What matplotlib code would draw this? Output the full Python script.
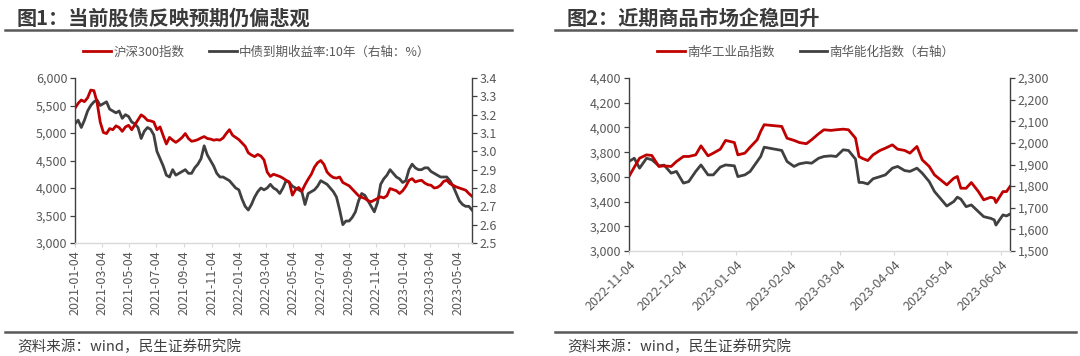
import matplotlib
matplotlib.use("Agg")
import matplotlib.pyplot as plt
import matplotlib.dates as mdates
from matplotlib.lines import Line2D
from matplotlib.ticker import FuncFormatter, FixedLocator
import pandas as pd

plt.rcParams['font.family'] = ['Noto Sans CJK SC', 'DejaVu Sans']

# ---------------- data: chart 1 (weekly samples) ----------------
c1_start = '2021-01-04'
c1_periods = 127
hs300 = [5450, 5540, 5600, 5570, 5640, 5780, 5770, 5560, 5200, 5010,
         4990, 5080, 5060, 5130, 5100, 5030, 5110, 5140, 5060, 5150,
         5240, 5330, 5290, 5230, 5220, 5200, 5060, 5110, 4950, 4800,
         4920, 4870, 4830, 4870, 4920, 4990, 4900, 4850, 4860, 4880,
         4910, 4935, 4900, 4890, 4870, 4880, 4870, 4910, 4990, 5060,
         4960, 4920, 4880, 4820, 4760, 4640, 4600, 4570, 4610, 4580,
         4510, 4290, 4210, 4250, 4230, 4210, 4180, 4140, 4110, 3870,
         3970, 4010, 3940, 4060, 4160, 4250, 4380, 4460, 4500, 4430,
         4290, 4230, 4190, 4180, 4200, 4100, 4070, 4040, 3980, 3920,
         3860, 3830, 3810, 3770, 3750, 3780, 3810, 3840, 3820, 3860,
         3990, 3970, 3950, 3900, 3950, 4030, 4140, 4170, 4110, 4130,
         4140, 4090, 4060, 4050, 4000, 4010, 4050, 4120, 4140, 4080,
         4050, 4020, 4000, 3980, 3960, 3900, 3850]
cgb10y = [3.15, 3.17, 3.13, 3.17, 3.22, 3.25, 3.27, 3.28, 3.25, 3.26,
          3.27, 3.23, 3.22, 3.21, 3.22, 3.18, 3.20, 3.19, 3.16, 3.15,
          3.13, 3.07, 3.11, 3.13, 3.12, 3.09, 3.00, 2.96, 2.92, 2.87,
          2.86, 2.90, 2.87, 2.88, 2.89, 2.90, 2.88, 2.88, 2.91, 2.93,
          2.96, 3.03, 2.98, 2.95, 2.92, 2.88, 2.86, 2.86, 2.85, 2.84,
          2.82, 2.80, 2.79, 2.74, 2.70, 2.68, 2.71, 2.75, 2.78, 2.80,
          2.79, 2.80, 2.82, 2.80, 2.79, 2.77, 2.80, 2.84, 2.83, 2.81,
          2.80, 2.79, 2.78, 2.71, 2.77, 2.78, 2.79, 2.81, 2.84, 2.83,
          2.82, 2.80, 2.78, 2.75, 2.68, 2.60, 2.62, 2.62, 2.64, 2.67,
          2.73, 2.77, 2.76, 2.73, 2.70, 2.67, 2.72, 2.82, 2.85, 2.87,
          2.90, 2.88, 2.86, 2.85, 2.83, 2.84, 2.90, 2.93, 2.91, 2.90,
          2.90, 2.91, 2.91, 2.89, 2.88, 2.87, 2.86, 2.86, 2.86, 2.84,
          2.81, 2.77, 2.73, 2.71, 2.70, 2.70, 2.68]
c1_xticks = ['2021-01-04', '2021-03-04', '2021-05-04', '2021-07-04', '2021-09-04',
             '2021-11-04', '2022-01-04', '2022-03-04', '2022-05-04', '2022-07-04',
             '2022-09-04', '2022-11-04', '2023-01-04', '2023-03-04', '2023-05-04']
c1_yticks_left = [3000, 3500, 4000, 4500, 5000, 5500, 6000]
c1_yticks_right = [2.5, 2.6, 2.7, 2.8, 2.9, 3.0, 3.1, 3.2, 3.3, 3.4]

# ---------------- data: chart 2 ----------------
c2_dates = ['2022-11-04', '2022-11-07', '2022-11-10', '2022-11-14', '2022-11-17',
            '2022-11-21', '2022-11-24', '2022-11-28', '2022-12-01', '2022-12-05',
            '2022-12-08', '2022-12-12', '2022-12-15', '2022-12-19', '2022-12-22',
            '2022-12-26', '2022-12-29', '2023-01-03', '2023-01-05', '2023-01-09',
            '2023-01-12', '2023-01-16', '2023-01-18', '2023-01-20', '2023-01-30',
            '2023-02-02', '2023-02-06', '2023-02-09', '2023-02-13', '2023-02-16',
            '2023-02-20', '2023-02-23', '2023-02-27', '2023-03-02', '2023-03-06',
            '2023-03-09', '2023-03-13', '2023-03-15', '2023-03-17', '2023-03-20',
            '2023-03-23', '2023-03-27', '2023-03-30', '2023-04-03', '2023-04-06',
            '2023-04-10', '2023-04-13', '2023-04-17', '2023-04-20', '2023-04-24',
            '2023-04-27', '2023-05-04', '2023-05-08', '2023-05-10', '2023-05-12',
            '2023-05-15', '2023-05-18', '2023-05-22', '2023-05-25', '2023-05-29',
            '2023-05-31', '2023-06-01', '2023-06-05', '2023-06-07', '2023-06-09']
nanhua_ind = [3603, 3678, 3751, 3778, 3773, 3684, 3689, 3684, 3724, 3765,
              3765, 3778, 3851, 3770, 3792, 3824, 3895, 3878, 3778, 3792,
              3840, 3900, 3968, 4022, 4008, 3913, 3895, 3878, 3868, 3900,
              3949, 3981, 3976, 3981, 3986, 3981, 3913, 3765, 3749, 3732,
              3778, 3814, 3832, 3859, 3824, 3814, 3792, 3846, 3738, 3684,
              3616, 3535, 3589, 3603, 3508, 3508, 3554, 3481, 3414, 3435,
              3427, 3392, 3481, 3481, 3522]
nanhua_energy = [1914, 1929, 1883, 1929, 1922, 1894, 1897, 1860, 1868, 1814,
                 1821, 1868, 1898, 1852, 1852, 1888, 1898, 1894, 1844, 1852,
                 1868, 1914, 1937, 1980, 1965, 1914, 1891, 1903, 1909, 1906,
                 1929, 1937, 1940, 1937, 1968, 1965, 1925, 1817, 1817, 1810,
                 1834, 1844, 1852, 1883, 1891, 1872, 1868, 1883, 1860, 1821,
                 1775, 1708, 1729, 1749, 1740, 1705, 1713, 1682, 1659, 1651,
                 1644, 1620, 1667, 1662, 1671]
c2_xticks = ['2022-11-04', '2022-12-04', '2023-01-04', '2023-02-04',
             '2023-03-04', '2023-04-04', '2023-05-04', '2023-06-04']
c2_yticks_left = [3000, 3200, 3400, 3600, 3800, 4000, 4200, 4400]
c2_yticks_right = [1500, 1600, 1700, 1800, 1900, 2000, 2100, 2200, 2300]

# ---------------- style ----------------
RED = '#C00000'
GREY = '#404040'
TXT = '#595959'
AXC = '#404040'
W, H = 1080, 356

fig = plt.figure(figsize=(W / 100, H / 100), dpi=100)
fig.patch.set_facecolor('white')


def fx(px):
    return px / W


def fy(py):
    return 1 - py / H


def style_axes(ax, ax2):
    for s in ['top', 'right']:
        ax.spines[s].set_visible(False)
    for s in ['top', 'left', 'bottom']:
        ax2.spines[s].set_visible(False)
    ax.spines['left'].set_color(AXC)
    ax.spines['left'].set_linewidth(1.0)
    ax2.spines['right'].set_color(AXC)
    ax2.spines['right'].set_linewidth(1.0)
    ax.spines['bottom'].set_color('#d9d9d9')
    ax.spines['bottom'].set_linewidth(1.0)
    ax.tick_params(axis='y', direction='out', length=3.5, width=0.9, color=AXC,
                   labelcolor=TXT, labelsize=9, pad=2)
    ax2.tick_params(axis='y', direction='out', length=3.5, width=0.9, color=AXC,
                    labelcolor=TXT, labelsize=9, pad=2)
    ax.tick_params(axis='x', direction='out', length=3, width=0.8, color='#d9d9d9',
                   labelcolor=TXT, labelsize=9, pad=2)


def header(x0, x1, title_x, title):
    fig.text(fx(title_x), fy(18), title, fontsize=14.5, fontweight='bold',
             color='#3a3a3a', ha='left', va='center')
    fig.add_artist(Line2D([fx(x0), fx(x1)], [fy(29.5), fy(29.5)], color='#595959', lw=1.8))
    fig.add_artist(Line2D([fx(x0), fx(x1)], [fy(331.5), fy(331.5)], color='#595959', lw=1.8))
    fig.text(fx(title_x), fy(347), '资料来源：wind，民生证券研究院', fontsize=10.5,
             color='#404040', ha='left', va='center')


# ---------------- chart 1 ----------------
d1 = pd.date_range(c1_start, periods=c1_periods, freq='7D')
ax1 = fig.add_axes([fx(75), fy(243), fx(397), 165 / H])
ax1b = ax1.twinx()
l1, = ax1.plot(d1, hs300, color=RED, lw=2.0, label='沪深300指数')
l2, = ax1b.plot(d1, cgb10y, color=GREY, lw=2.0, label='中债到期收益率:10年（右轴：%）')
ax1.set_zorder(ax1b.get_zorder() + 1)
ax1.patch.set_visible(False)
ax1.set_xlim(d1[0], d1[-1])
ax1.set_ylim(c1_yticks_left[0], c1_yticks_left[-1])
ax1b.set_ylim(c1_yticks_right[0], c1_yticks_right[-1])
ax1.yaxis.set_major_locator(FixedLocator(c1_yticks_left))
ax1b.yaxis.set_major_locator(FixedLocator(c1_yticks_right))
ax1.yaxis.set_major_formatter(FuncFormatter(lambda v, p: f'{v:,.0f}'))
ax1b.yaxis.set_major_formatter(FuncFormatter(lambda v, p: f'{v:.1f}'))
t1 = pd.to_datetime(c1_xticks)
ax1.set_xticks(t1)
ax1.set_xticklabels(c1_xticks, rotation=90)
style_axes(ax1, ax1b)
fig.legend([l1, l2], [l1.get_label(), l2.get_label()], loc='center',
           bbox_to_anchor=(fx(257), fy(52)), ncol=2, frameon=False, fontsize=9,
           labelcolor=TXT, handlelength=2.2, handletextpad=0.2, columnspacing=2.0)
header(5, 512, 17, '图1：当前股债反映预期仍偏悲观')

# ---------------- chart 2 ----------------
d2 = pd.to_datetime(c2_dates)
ax2 = fig.add_axes([fx(629), fy(251), fx(381), 173 / H])
ax2b = ax2.twinx()
m1, = ax2.plot(d2, nanhua_ind, color=RED, lw=2.0, label='南华工业品指数')
m2, = ax2b.plot(d2, nanhua_energy, color=GREY, lw=2.0, label='南华能化指数（右轴）')
ax2.set_zorder(ax2b.get_zorder() + 1)
ax2.patch.set_visible(False)
ax2.set_xlim(d2[0], d2[-1])
ax2.set_ylim(c2_yticks_left[0], c2_yticks_left[-1])
ax2b.set_ylim(c2_yticks_right[0], c2_yticks_right[-1])
ax2.yaxis.set_major_locator(FixedLocator(c2_yticks_left))
ax2b.yaxis.set_major_locator(FixedLocator(c2_yticks_right))
ax2.yaxis.set_major_formatter(FuncFormatter(lambda v, p: f'{v:,.0f}'))
ax2b.yaxis.set_major_formatter(FuncFormatter(lambda v, p: f'{v:,.0f}'))
t2 = pd.to_datetime(c2_xticks)
ax2.set_xticks(t2)
ax2.set_xticklabels(c2_xticks, rotation=45, ha='right', rotation_mode='anchor')
style_axes(ax2, ax2b)
fig.legend([m1, m2], [m1.get_label(), m2.get_label()], loc='center',
           bbox_to_anchor=(fx(806), fy(52)), ncol=2, frameon=False, fontsize=9,
           labelcolor=TXT, handlelength=2.2, handletextpad=0.2, columnspacing=2.0)
header(555, 1076, 567, '图2：近期商品市场企稳回升')

fig.savefig('out.png', dpi=100, facecolor='white')
